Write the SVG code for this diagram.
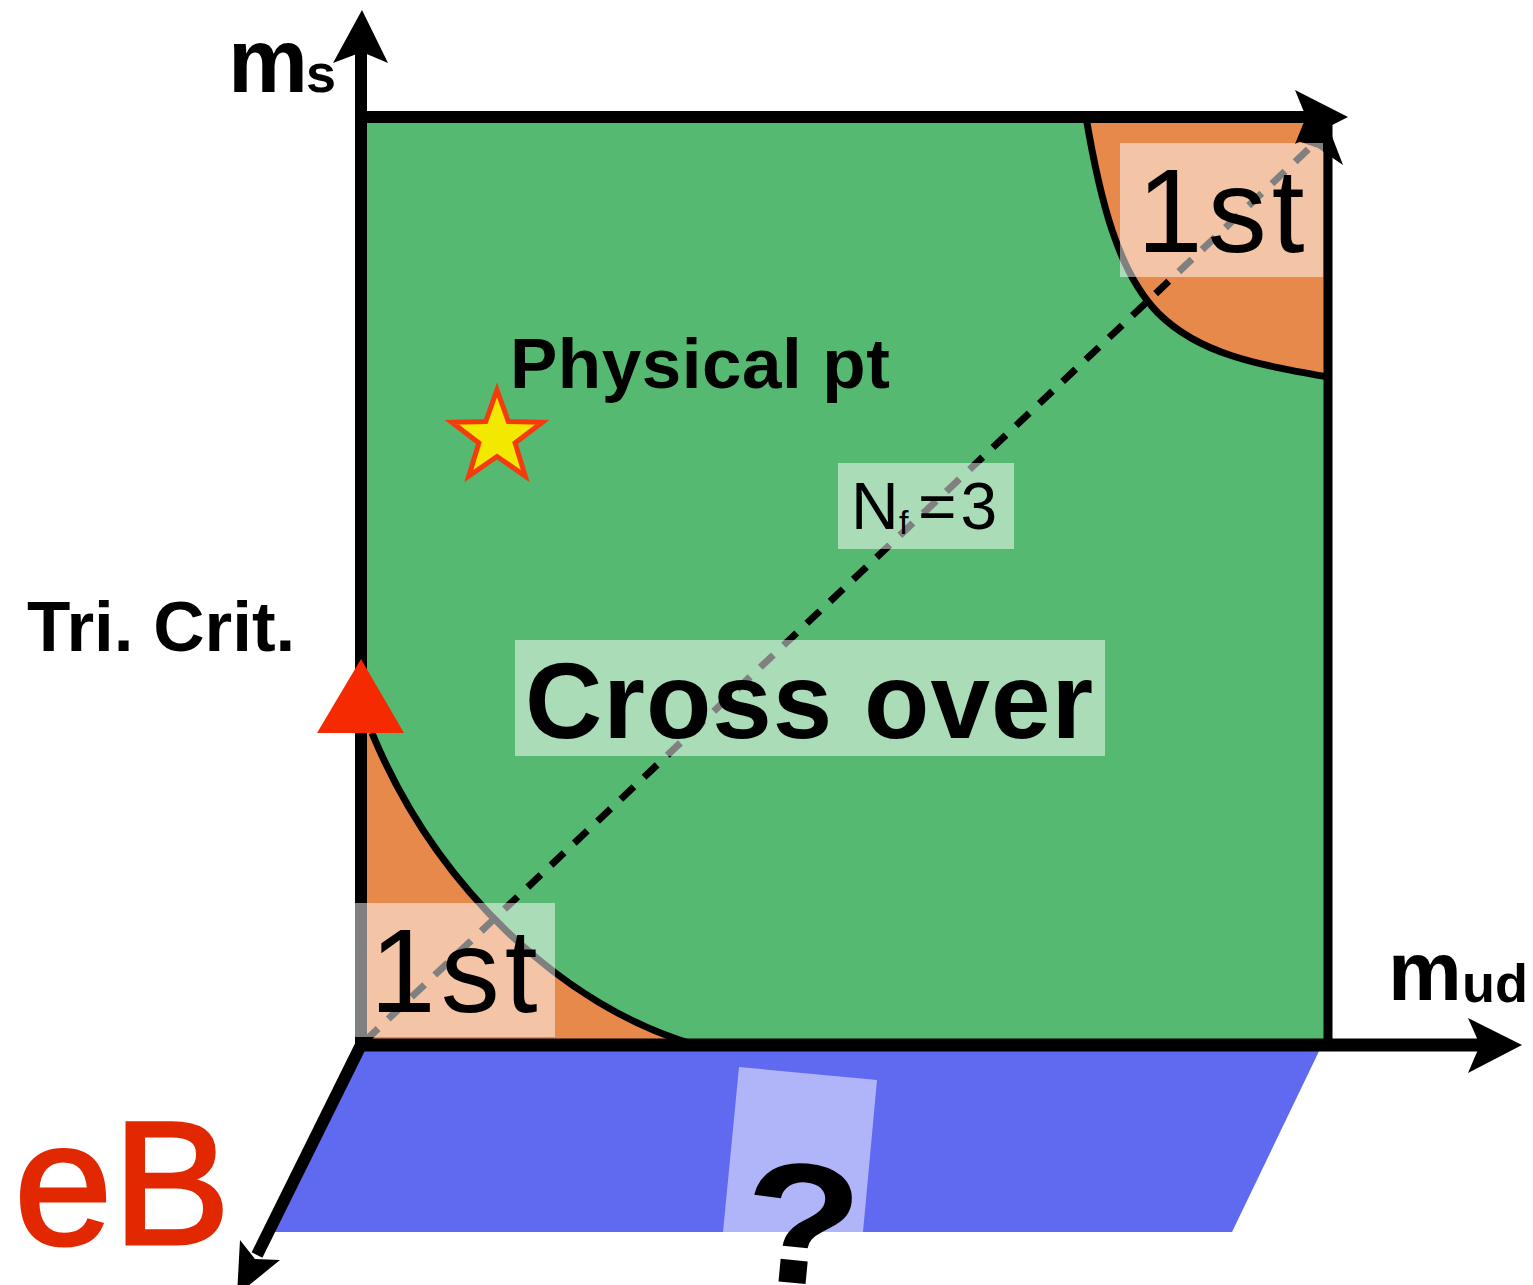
<svg xmlns="http://www.w3.org/2000/svg" width="1533" height="1285" viewBox="0 0 1533 1285">
<style>
.sans{font-family:"Liberation Sans",Arial,sans-serif}
.b{font-weight:bold}
.lbl{fill:#ffffff;fill-opacity:0.5}
.ax{stroke:#000;stroke-width:12;fill:none}
.crv{stroke:#000;stroke-width:7;fill:none}
</style>
<rect width="1533" height="1285" fill="#ffffff"/>
<g id="plane">
<polygon points="358,1045 1322,1045 1232,1232 265,1232" fill="#5F6AF0"/>
<polygon points="739,1067 877,1080 863,1232 723,1232" class="lbl"/>
</g>
<g id="region-crossover">
<rect x="361" y="117" width="967" height="928" fill="#55B971"/>
</g>
<g id="region-1st-heavy">
<path d="M1086,117 C1100,200 1118,272 1158,313 C1200,355 1260,365 1328,377 L1328,117 Z" fill="#E6894B"/>
<path d="M1086,117 C1100,200 1118,272 1158,313 C1200,355 1260,365 1328,377" class="crv"/>
</g>
<g id="region-1st-light">
<path d="M361,733 L372,733 C435,885 560,1005 695,1045 L361,1045 Z" fill="#E6894B"/>
<path d="M372,733 C435,885 560,1005 695,1045" class="crv"/>
</g>
<g id="connectors">
<line x1="361" y1="1045" x2="361" y2="50" class="ax"/>
<line x1="355" y1="117" x2="1310" y2="117" class="ax"/>
<line x1="1328" y1="117" x2="1328" y2="1049" stroke="#000" stroke-width="9"/>
<line x1="355" y1="1045" x2="1485" y2="1045" stroke="#000" stroke-width="13"/>
<line x1="361" y1="1045" x2="257" y2="1255" class="ax"/>
<polygon points="362,10 333,63 362,52 388,63" fill="#000"/>
<polygon points="1522,1045 1468,1018 1480,1045 1468,1073" fill="#000"/>
<polygon points="237,1295 240,1240 255,1259 280,1260" fill="#000"/>
<line x1="365" y1="1041" x2="1316" y2="142" stroke="#000" stroke-width="7" stroke-dasharray="18 14"/>
<polygon points="1328,126 1298,141 1318,148 1343,165" fill="#000"/>
</g>
<g id="label-1st-top">
<rect x="1120" y="143" width="203" height="134" class="lbl"/>
<text x="1137" y="252" font-size="118" class="sans" letter-spacing="5">1st</text>
</g>
<g id="label-1st-bottom">
<rect x="355" y="903" width="200" height="134" class="lbl"/>
<text x="370" y="1012" font-size="118" class="sans" letter-spacing="5">1st</text>
</g>
<g id="label-nf3">
<rect x="838" y="463" width="176" height="86" class="lbl"/>
<text class="sans" font-size="66"><tspan x="851" y="529">N</tspan><tspan x="899" y="534" font-size="34">f</tspan><tspan x="918" y="529" letter-spacing="4">=3</tspan></text>
</g>
<g id="label-crossover">
<rect x="515" y="640" width="590" height="116" class="lbl"/>
<text x="525" y="738" font-size="107" class="sans b" letter-spacing="1">Cross over</text>
</g>
<g id="top-arrow">
<polygon points="1348,117 1295,90 1306,117 1295,144" fill="#000"/>
</g>
<g id="tricrit">
<polygon points="361,659 317,733 404,733" fill="#F52A00"/>
<text x="27" y="651" font-size="71" class="sans b">Tri. Crit.</text>
</g>
<g id="physical-pt">
<polygon points="497,390 508.3,421.5 542.2,422.3 515.1,443 525.2,476 497,456.5 468.8,476 478.9,443 451.8,422.3 485.7,421.5" fill="#F2E800" stroke="#F53B0A" stroke-width="5" stroke-linejoin="miter"/>
<text x="510" y="388" font-size="71" class="sans b" letter-spacing="0.5">Physical pt</text>
</g>
<g id="axis-labels">
<text class="sans b"><tspan x="228" y="92" font-size="90">m</tspan><tspan x="306" y="92" font-size="54">s</tspan></text>
<text class="sans b"><tspan x="1388" y="1000" font-size="83">m</tspan><tspan x="1462" y="1002" font-size="54">ud</tspan></text>
<text x="14" y="1244" font-size="177" class="sans" fill="#E22800" stroke="#E22800" stroke-width="3">eB</text>
</g>
<g id="question">
<text x="0" y="0" font-size="172" class="sans b" text-anchor="middle" transform="translate(796 1283) rotate(5.4) scale(1.12 1)">?</text>
</g>
</svg>
